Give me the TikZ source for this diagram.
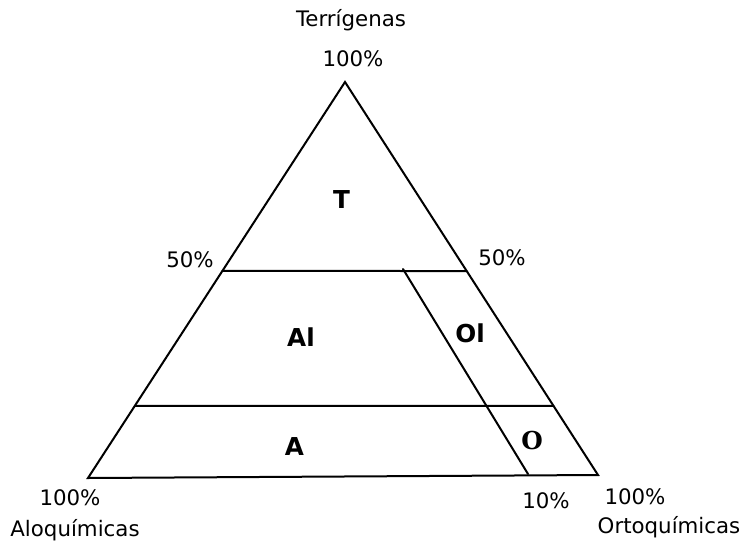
\documentclass[tikz,border=0pt]{standalone}
\usepackage{fontspec}
\setmainfont{DejaVu Sans}
\newfontfamily\serifbold{DejaVu Serif}
\usetikzlibrary{positioning,calc}

\begin{document}
\begin{tikzpicture}[
    x=0.75pt, y=-0.75pt,
    edge/.style={draw=black, line width=1.5pt, line cap=round},
    pct/.style={font=\fontsize{16}{19}\selectfont, inner sep=0pt, anchor=base},
    field/.style={font=\fontsize{18.5}{22}\selectfont\bfseries, inner sep=0pt}
]
    \useasboundingbox (0,0) rectangle (741,542);

    % corners of the triangle
    \coordinate (top) at (345,82);
    \coordinate (left) at (88,478);
    \coordinate (right) at (598,475);

    % ends of the inner lines
    \coordinate (midL) at ($(top)!0.477!(left)$);
    \coordinate (midR) at ($(top)!0.481!(right)$);
    \coordinate (lowL) at ($(top)!0.818!(left)$);
    \coordinate (lowR) at ($(top)!0.824!(right)$);
    \coordinate (ortA) at (403,269);
    \coordinate (ortB) at (528,474);

    \draw [edge] (top) -- (left) -- (right) -- cycle;
    \draw [edge] (midL) -- (midR);
    \draw [edge] (lowL) -- (lowR);
    \draw [edge] (ortA) -- (ortB);

    % labels
    \node [pct] (terr) at (351,27) {Terrígenas};
    \node [pct] (pTop) at (353,66) {100\%};
    \node [pct] (pMidL) at (190,267) {50\%};
    \node [pct] (pMidR) at (502,265) {50\%};
    \node [pct] (pLeft) at (70,505) {100\%};
    \node [pct] (aloq) at (75,536) {Aloquímicas};
    \node [pct] (pTen) at (546,508) {10\%};
    \node [pct] (pRight) at (635,504) {100\%};
    \node [pct] (ortq) at (669,533) {Ortoquímicas};

    \node [field] (fT) at (341.5,200) {T};
    \node [field] (fAl) at (301,337.5) {Al};
    \node [field] (fOl) at (470,333) {Ol};
    \node [field] (fA) at (294.5,446.5) {A};
    \node [field, font=\fontsize{18.5}{22}\selectfont\serifbold\bfseries] (fO) at (532,441) {O};
\end{tikzpicture}
\end{document}
